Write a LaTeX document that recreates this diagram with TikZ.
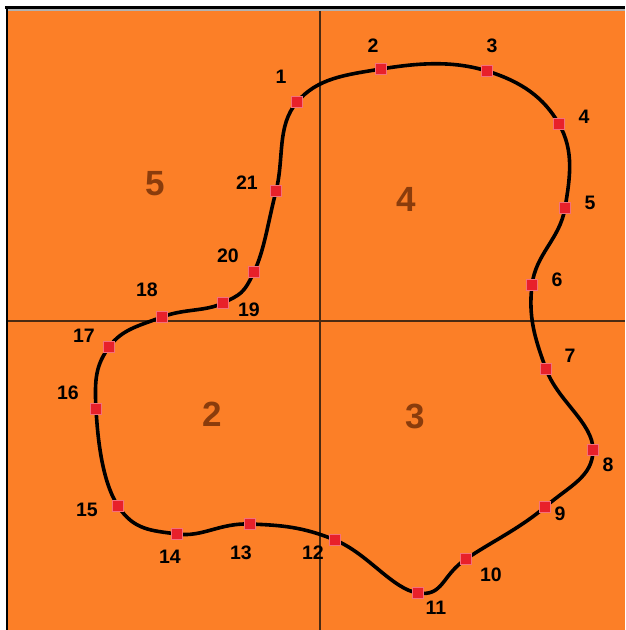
\documentclass[tikz,border=0pt]{standalone}
\usepackage{fontspec}
\setmainfont{Liberation Sans}
\definecolor{bgorange}{HTML}{FC7F27}
\definecolor{regbrown}{HTML}{8A3C0C}
\definecolor{gridline}{HTML}{4A2A12}
\definecolor{ptred}{HTML}{E8202A}
\definecolor{ptedge}{HTML}{F4707A}
\tikzset{
  sq/.style={rectangle, minimum size=11pt, inner sep=0pt, fill=ptred, draw=ptedge, line width=0.6pt},
  lbl/.style={font=\fontsize{19.5}{19.5}\selectfont\bfseries, text=black, inner sep=0pt},
  reg/.style={font=\fontsize{35}{35}\selectfont\bfseries, text=regbrown, inner sep=0pt},
  gridln/.style={draw=gridline, line width=1.3pt},
  route/.style={draw=black, line width=3.6pt, line join=round}
}
\begin{document}
\begin{tikzpicture}[x=1pt,y=-1pt]
\useasboundingbox (0,0) rectangle (625,630);
\fill[white] (0,0) rectangle (625,630);
\fill[bgorange] (8,11) rectangle (625,630);
\draw[black, line width=3pt] (5,7) -- (625,7);
\draw[gray!60, line width=1.5pt] (8,10) -- (625,10);
\draw[black, line width=2.5pt] (7,6) -- (7,630);
% grid lines
\coordinate (gt) at (320,11);
\coordinate (gb) at (320,630);
\coordinate (gl) at (8,321);
\coordinate (gr) at (625,321);
\draw[gridln] (gt) -- (gb);
\draw[gridln] (gl) -- (gr);
% region numbers
\node[reg] (r5) at (155,184) {5};
\node[reg] (r4) at (406,199) {4};
\node[reg] (r2) at (212,414) {2};
\node[reg] (r3) at (415,416) {3};
% route points
\coordinate (c1) at (297,102);
\coordinate (c2) at (381,69);
\coordinate (c3) at (487,71);
\coordinate (c4) at (559,124);
\coordinate (c5) at (565,208);
\coordinate (c6) at (532,285);
\coordinate (c7) at (546,369);
\coordinate (c8) at (593,450);
\coordinate (c9) at (545,507);
\coordinate (c10) at (466,559);
\coordinate (c11) at (418,593);
\coordinate (c12) at (335,540);
\coordinate (c13) at (250,524);
\coordinate (c14) at (177,534);
\coordinate (c15) at (118,506);
\coordinate (c16) at (96,409);
\coordinate (c17) at (109,347);
\coordinate (c18) at (162,317);
\coordinate (c19) at (223,303);
\coordinate (c20) at (254,272);
\coordinate (c21) at (276,191);
\draw[route] plot[smooth cycle, tension=0.7] coordinates {(c1) (c2) (c3) (c4) (c5) (c6) (c7) (c8) (c9) (c10) (c11) (c12) (c13) (c14) (c15) (c16) (c17) (c18) (c19) (c20) (c21)};
\foreach \i in {1,...,21} {\node[sq] (p\i) at (c\i) {};}
% labels
\node[lbl] (l1) at (281,77) {1};
\node[lbl] (l2) at (373,46) {2};
\node[lbl] (l3) at (492,46) {3};
\node[lbl] (l4) at (584,117) {4};
\node[lbl] (l5) at (590,203) {5};
\node[lbl] (l6) at (557,280) {6};
\node[lbl] (l7) at (570,356) {7};
\node[lbl] (l8) at (608,465) {8};
\node[lbl] (l9) at (560,514) {9};
\node[lbl] (l10) at (491,575) {10};
\node[lbl] (l11) at (436,608) {11};
\node[lbl] (l12) at (313,553) {12};
\node[lbl] (l13) at (241,553) {13};
\node[lbl] (l14) at (170,557) {14};
\node[lbl] (l15) at (87,510) {15};
\node[lbl] (l16) at (68,393) {16};
\node[lbl] (l17) at (84,336) {17};
\node[lbl] (l18) at (147,290) {18};
\node[lbl] (l19) at (249,310) {19};
\node[lbl] (l20) at (228,256) {20};
\node[lbl] (l21) at (247,183) {21};
\end{tikzpicture}
\end{document}
